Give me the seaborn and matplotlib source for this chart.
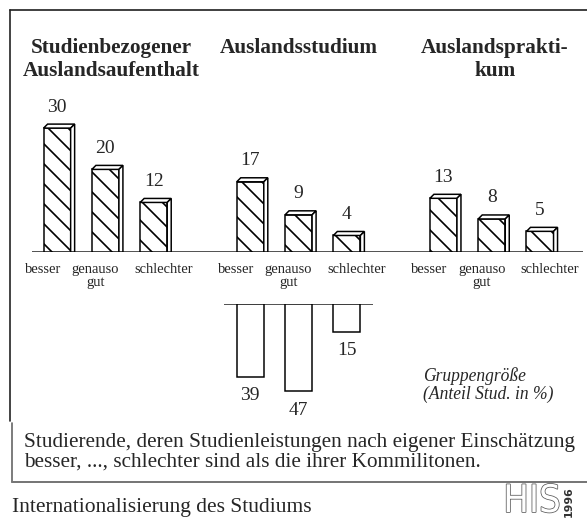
import pandas as pd
import seaborn as sns
import matplotlib.pyplot as plt
import matplotlib.patheffects as pe
from matplotlib.lines import Line2D
from matplotlib.patches import Polygon

# Data (Anteil in %)
groups = ["Studienbezogener\nAuslandsaufenthalt", "Auslandsstudium", "Auslandsprakti-\nkum"]
ratings = ["besser", "genauso\ngut", "schlechter"]
share_aufenthalt = [30, 20, 12]
share_studium = [17, 9, 4]
share_praktikum = [13, 8, 5]
group_size_studium = [39, 47, 15]   # Gruppengröße (Anteil Stud. in %)

rows = []
for g, vals in enumerate([share_aufenthalt, share_studium, share_praktikum]):
    for r, v in enumerate(vals):
        rows.append({"group": groups[g], "rating": ratings[r], "pos": g * 4 + r, "value": v})
df = pd.DataFrame(rows)
df_size = pd.DataFrame({"rating": ratings, "pos": [4 + r for r in range(3)],
                        "value": group_size_studium})

DPI = 120
W, H = 587, 522


def pt(px):
    return px * 72 / DPI


def rect(left, top, right, bottom):
    return [left / W, 1 - bottom / H, (right - left) / W, (bottom - top) / H]


sns.set_theme(style="white")
plt.rcParams["font.family"] = ["Liberation Serif", "DejaVu Serif"]
plt.rcParams["hatch.linewidth"] = 1.0
plt.rcParams["hatch.color"] = "black"

fig = plt.figure(figsize=(W / DPI, H / DPI), dpi=DPI)
fig.patch.set_facecolor("white")

XLIM = (-0.52, 10.89)
ax = fig.add_axes(rect(32, 90, 583, 252))
ax2 = fig.add_axes(rect(32, 304, 583, 430))

sns.barplot(data=df, x="pos", y="value", native_scale=True, width=0.56, color="white",
            edgecolor="black", linewidth=0.9, errorbar=None, ax=ax, zorder=3)
sns.barplot(data=df_size, x="pos", y="value", native_scale=True, width=0.56, color="white",
            edgecolor="black", linewidth=0.9, errorbar=None, ax=ax2, zorder=3)

ax.set_xlim(*XLIM)
ax.set_ylim(0, 162 / 4.13)
ax2.set_xlim(*XLIM)
ax2.set_ylim(126 / 1.86, 0)
for a in (ax, ax2):
    a.set_axis_off()

ax.axhline(0, color="#333333", lw=1.0, zorder=2)
ax2.hlines(0, 3.45, 6.55, color="#333333", lw=1.0, zorder=2)

# 3D look for the upper bars
ax_w = 583 - 32
ax_h = 252 - 90
dx = 4 * (XLIM[1] - XLIM[0]) / ax_w
dy = 4 * ax.get_ylim()[1] / ax_h
for p in ax.patches:
    p.set_facecolor("white")
    p.set_hatch("\\\\")
    x0, w, h = p.get_x(), p.get_width(), p.get_height()
    x1 = x0 + w
    top = Polygon([(x0, h), (x1, h), (x1 + dx, h + dy), (x0 + dx, h + dy)], closed=True,
                  facecolor="white", edgecolor="black", lw=0.9, zorder=3)
    side = Polygon([(x1, 0), (x1, h), (x1 + dx, h + dy), (x1 + dx, 0)], closed=True,
                   facecolor="white", edgecolor="black", lw=0.9, zorder=3)
    ax.add_patch(top)
    ax.add_patch(side)
    ax.annotate(f"{h:.0f}", (x0 + w / 2, h), xytext=(0, 21), textcoords="offset pixels",
                ha="center", va="center", fontsize=pt(19.5))

for p in ax2.patches:
    p.set_facecolor("white")
    x0, w, h = p.get_x(), p.get_width(), p.get_height()
    ax2.annotate(f"{h:.0f}", (x0 + w / 2, h), xytext=(0, -19), textcoords="offset pixels",
                 ha="center", va="center", fontsize=pt(19.5))

# category labels under the baseline
label_shift = [-14, -10, 10]
for _, row in df.iterrows():
    r = ratings.index(row["rating"])
    ax.annotate(row["rating"], (row["pos"], 0), xytext=(label_shift[r], -11),
                textcoords="offset pixels", ha="center", va="top",
                multialignment="center", fontsize=pt(14.5), linespacing=1.0)

# group titles
title_x = [111, 299, 495]
for g, name in enumerate(groups):
    fig.text(title_x[g] / W, 1 - 38 / H, name, ha="center", va="top", fontsize=pt(21.2),
             fontweight="bold", linespacing=1.2)

fig.text(423 / W, 1 - 385 / H, "Gruppengröße\n(Anteil Stud. in %)", ha="left", va="center",
         fontsize=pt(17.5), style="italic", linespacing=1.0)

# frame lines
fig.add_artist(Line2D([10 / W, 1], [1 - 10 / H] * 2, color="#444444", lw=1.2))
fig.add_artist(Line2D([10 / W] * 2, [1 - 10 / H, 1 - 421 / H], color="#222222", lw=1.0))
fig.add_artist(Line2D([12 / W] * 2, [1 - 423 / H, 1 - 482 / H], color="#666666", lw=1.0))
fig.add_artist(Line2D([12 / W, 1], [1 - 482 / H] * 2, color="#777777", lw=1.2))

fig.text(24 / W, 1 - 467 / H,
         "Studierende, deren Studienleistungen nach eigener Einschätzung\n"
         "besser, ..., schlechter sind als die ihrer Kommilitonen.",
         ha="left", va="baseline", fontsize=pt(21.3), linespacing=1.08)
fig.text(12 / W, 1 - 512 / H, "Internationalisierung des Studiums", ha="left", va="baseline",
         fontsize=pt(21.5))

# HIS logo
fig.text(532 / W, 1 - 502 / H, "HIS", ha="center", va="center", fontsize=pt(38),
         family="DejaVu Sans", fontstretch="condensed", color="white",
         path_effects=[pe.withStroke(linewidth=0.9, foreground="#555555")])
fig.text(569 / W, 1 - 502 / H, "1996", ha="center", va="center", fontsize=pt(11),
         family="DejaVu Sans", fontweight="bold", rotation=90, color="#333333")

fig.savefig("out.png", dpi=DPI)
